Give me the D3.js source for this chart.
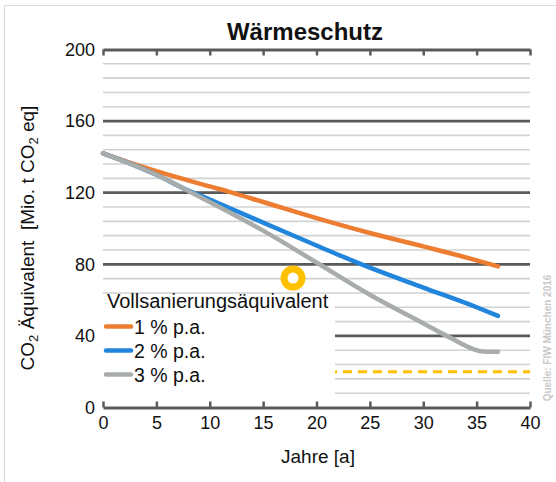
<!DOCTYPE html>
<html><head><meta charset="utf-8">
<script src="https://cdn.jsdelivr.net/npm/d3@7"></script>
<style>
body{margin:0;background:#fff}
svg{display:block}
text{font-family:"Liberation Sans",Arial,sans-serif;fill:#111}
</style>
</head><body>
<svg id="chart" width="556" height="482"></svg>
<script>
// ---- data ----
const chartTitle = "Wärmeschutz";
const legendTitle = "Vollsanierungsäquivalent";
const seriesNames = ["1 % p.a.", "2 % p.a.", "3 % p.a."];
const seriesColors = ["#ED7D31", "#2185DC", "#A8ADAB"];

const years1 = [0, 2.5, 5, 10, 12, 15, 20, 25, 30, 35, 37];
const values1 = [142, 136.8, 132, 123.5, 120.2, 114.8, 105.8, 97.5, 90, 82.2, 78.8];

const years2 = [0, 2.5, 5, 8, 10, 12, 15, 20, 25, 30, 35, 37];
const values2 = [142, 136.4, 130, 121.2, 116.2, 111, 103.3, 90.5, 78.1, 67, 56, 51.2];

const years3 = [0, 2.5, 5, 8, 10, 12, 15, 20, 25, 30, 32.2, 35.9, 37];
const values3 = [142, 136.3, 130, 121, 114.8, 108.5, 98.8, 81, 63, 47, 40, 31.2, 31.2];

const xTicks = [0, 5, 10, 15, 20, 25, 30, 35, 40];
const yMajorTicks = [0, 40, 80, 120, 160, 200];
const yMajorGrid = [40, 80, 120, 160];
const yMinorGrid = [8, 16, 24, 32, 48, 56, 64, 72, 88, 96, 104, 112, 128, 136, 144, 152, 168, 176, 184, 192];

const markerYear = 17.8;
const markerValue = 72.3;
const targetValue = 20;

const xTitle = "Jahre [a]";
const sourceText = "Quelle: FIW München 2016";

// ---- drawing ----
const svg = d3.select("#chart");
const x = d3.scaleLinear().domain([0, 40]).range([103, 530]);
const y = d3.scaleLinear().domain([0, 200]).range([407.5, 49.5]);

// outer frame (left + top light line)
svg.append("line").attr("x1", 4.5).attr("x2", 4.5).attr("y1", 5).attr("y2", 482)
  .attr("stroke", "#d9d9d9").attr("stroke-width", 1.2);
svg.append("line").attr("x1", 4).attr("x2", 556).attr("y1", 5.5).attr("y2", 5.5)
  .attr("stroke", "#d9d9d9").attr("stroke-width", 1.2);

// minor grid
svg.append("g").selectAll("line").data(yMinorGrid).join("line")
  .attr("x1", x(0)).attr("x2", x(40))
  .attr("y1", d => y(d)).attr("y2", d => y(d))
  .attr("stroke", "#d2d2d2").attr("stroke-width", 1.6);

// major grid
svg.append("g").selectAll("line").data(yMajorGrid).join("line")
  .attr("x1", x(0)).attr("x2", x(40))
  .attr("y1", d => y(d)).attr("y2", d => y(d))
  .attr("stroke", "#5a5a5a").attr("stroke-width", 2.8);

// target dashed line
svg.append("line")
  .attr("x1", x(0)).attr("x2", x(40))
  .attr("y1", y(targetValue)).attr("y2", y(targetValue))
  .attr("stroke", "#FFC000").attr("stroke-width", 3)
  .attr("stroke-dasharray", "9,6");

// legend background
svg.append("rect").attr("x", 100).attr("y", 298).attr("width", 235).attr("height", 102)
  .attr("fill", "#fff");

// bottom axis
const axB = svg.append("g").attr("transform", `translate(0,${y(0)})`)
  .call(d3.axisBottom(x).tickValues(xTicks).tickSizeInner(-6).tickSizeOuter(0).tickPadding(9));
axB.select(".domain").attr("stroke", "#5a5a5a").attr("stroke-width", 3);
axB.selectAll(".tick line").attr("stroke", "#5a5a5a").attr("stroke-width", 2.5);
axB.selectAll(".tick text").attr("font-size", 18).attr("fill", "#111")
  .style("font-family", "'Liberation Sans',Arial,sans-serif");

// top frame axis
const axT = svg.append("g").attr("transform", `translate(0,${y(200)})`)
  .call(d3.axisTop(x).tickValues(xTicks).tickSizeInner(-6).tickSizeOuter(0).tickFormat(""));
axT.select(".domain").attr("stroke", "#5a5a5a").attr("stroke-width", 3);
axT.selectAll(".tick line").attr("stroke", "#5a5a5a").attr("stroke-width", 2.5);

// left labels
const axL = svg.append("g").attr("transform", `translate(${x(0)},0)`)
  .call(d3.axisLeft(y).tickValues(yMajorTicks).tickSize(0).tickPadding(8));
axL.select(".domain").remove();
axL.selectAll(".tick text").attr("font-size", 18).attr("fill", "#111")
  .style("font-family", "'Liberation Sans',Arial,sans-serif");

// series lines
const line = d3.line().x(d => x(d[0])).y(d => y(d[1])).curve(d3.curveMonotoneX);
const series = [
  d3.zip(years1, values1),
  d3.zip(years2, values2),
  d3.zip(years3, values3)
];
series.forEach((s, i) => {
  svg.append("path").datum(s).attr("d", line)
    .attr("fill", "none").attr("stroke", seriesColors[i])
    .attr("stroke-width", 4.5).attr("stroke-linecap", "round").attr("stroke-linejoin", "round");
});

// yellow marker ring
svg.append("circle").attr("cx", x(markerYear)).attr("cy", y(markerValue)).attr("r", 9)
  .attr("fill", "#fff").attr("stroke", "#FFC000").attr("stroke-width", 7);

// legend
svg.append("text").attr("x", 107).attr("y", 308).attr("font-size", 20).text(legendTitle);
seriesNames.forEach((n, i) => {
  const cy = 326.5 + i * 24;
  svg.append("line").attr("x1", 106).attr("x2", 131).attr("y1", cy).attr("y2", cy)
    .attr("stroke", seriesColors[i]).attr("stroke-width", 4.5).attr("stroke-linecap", "round");
  svg.append("text").attr("x", 134).attr("y", cy + 7).attr("font-size", 19.5).text(n);
});

// title
svg.append("text").attr("x", 305).attr("y", 40).attr("text-anchor", "middle")
  .attr("font-size", 24).attr("font-weight", "bold").text(chartTitle);

// x title
svg.append("text").attr("x", 318).attr("y", 463).attr("text-anchor", "middle")
  .attr("font-size", 19).text(xTitle);

// y title with subscripts
const yt = svg.append("text").attr("transform", "translate(34,238) rotate(-90)")
  .attr("text-anchor", "middle").attr("font-size", 19).style("white-space", "pre");
yt.append("tspan").text("CO");
yt.append("tspan").attr("font-size", 13).attr("dy", 4).text("2");
yt.append("tspan").attr("dy", -4).text(" Äquivalent  [Mio. t CO");
yt.append("tspan").attr("font-size", 13).attr("dy", 4).text("2");
yt.append("tspan").attr("dy", -4).text(" eq]");

// source
svg.append("text").attr("transform", "translate(551,338) rotate(-90)")
  .attr("text-anchor", "middle").attr("font-size", 10).attr("font-weight", "bold")
  .style("fill", "#c9c9c9").text(sourceText);
</script>
</body></html>
